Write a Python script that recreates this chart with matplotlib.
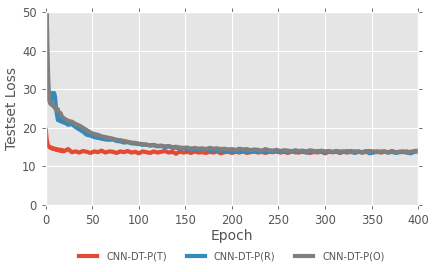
import matplotlib
matplotlib.use("Agg")
import matplotlib.pyplot as plt
import numpy as np

plt.style.use("ggplot")

# epochs: every epoch for the first 20, then every 4th
epochs = list(range(0, 20)) + list(range(20, 401, 4))

loss_t = [19.5, 17.0, 15.8, 15.2, 15.0, 14.8, 14.9, 14.6, 14.7, 14.5,
          14.6, 14.3, 14.4, 14.2, 14.4, 14.1, 14.3, 14.0, 14.2, 13.9,
          14.0, 14.5, 13.7, 13.9, 13.6, 14.0, 13.8, 13.5, 13.9, 13.7,
          14.1, 13.6, 13.9, 13.8, 13.5, 13.9, 13.7, 14.0, 13.6, 13.8,
          13.4, 13.9, 13.7, 13.5, 13.9, 13.6, 13.8, 14.0, 13.6, 13.8,
          13.3, 13.9, 13.6, 13.8, 13.5, 13.9, 13.6, 13.7, 13.5, 13.8,
          13.6, 13.9, 13.4, 13.7, 13.8, 13.5, 13.8, 13.6, 13.9, 13.5,
          13.7, 13.9, 13.6, 13.8, 13.5, 13.8, 13.7, 13.9, 13.6, 13.8,
          13.5, 13.9, 13.7, 13.6, 13.9, 13.7, 13.5, 13.8, 13.6, 13.9,
          13.4, 13.8, 13.7, 13.9, 13.5, 13.8, 13.6, 14.0, 13.7, 13.9,
          13.6, 13.8, 14.0, 13.7, 13.9, 13.6, 13.8, 13.7, 14.0, 13.6,
          13.8, 13.7, 13.9, 13.6, 14.0, 14.1]

loss_r = [60.0, 42.0, 33.0, 29.0, 27.0, 26.5, 27.5, 29.0, 28.6, 29.0,
          28.0, 25.0, 23.5, 22.0, 22.5, 21.8, 22.3, 21.6, 22.0, 21.4,
          21.5, 20.8, 21.0, 20.2, 19.6, 19.0, 18.2, 18.0, 17.6, 17.4,
          17.2, 17.0, 16.9, 17.0, 16.6, 16.5, 16.2, 16.3, 16.0, 15.9,
          15.8, 15.6, 15.7, 15.4, 15.5, 15.2, 15.3, 15.0, 15.2, 14.8,
          14.9, 14.6, 14.8, 14.5, 14.6, 14.3, 14.5, 14.2, 14.4, 14.1,
          14.3, 14.0, 14.2, 14.0, 14.1, 13.9, 14.1, 13.8, 14.0, 13.9,
          14.1, 13.8, 14.0, 13.9, 13.7, 14.0, 13.8, 14.0, 13.7, 13.9,
          13.8, 14.0, 13.7, 13.9, 13.8, 13.6, 13.9, 13.7, 14.0, 13.8,
          13.6, 13.9, 13.7, 13.8, 13.6, 13.9, 13.7, 13.8, 13.5, 13.8,
          13.7, 13.9, 13.4, 13.6, 13.8, 13.7, 13.9, 13.6, 13.8, 13.5,
          13.7, 13.8, 13.6, 13.4, 13.8, 13.9]

loss_o = [60.0, 50.5, 38.0, 30.0, 27.0, 26.2, 26.5, 25.8, 26.2, 25.4,
          25.0, 25.3, 24.6, 24.8, 24.0, 23.6, 23.8, 23.0, 22.8, 22.5,
          22.4, 21.8, 21.6, 21.0, 20.6, 20.0, 19.4, 18.8, 18.4, 18.2,
          17.8, 17.6, 17.4, 17.2, 16.9, 16.8, 16.6, 16.4, 16.2, 16.1,
          15.9, 15.8, 15.6, 15.5, 15.6, 15.3, 15.4, 15.2, 15.3, 15.0,
          15.1, 14.9, 14.8, 14.9, 14.6, 14.8, 14.6, 14.7, 14.5, 14.8,
          14.6, 14.7, 14.5, 14.6, 14.4, 14.5, 14.3, 14.6, 14.4, 14.5,
          14.2, 14.4, 14.3, 14.1, 14.5, 14.2, 14.1, 14.3, 14.0, 14.2,
          14.1, 13.9, 14.2, 14.0, 14.1, 13.9, 14.2, 14.0, 13.8, 14.1,
          13.9, 14.0, 13.8, 14.0, 13.9, 13.8, 14.0, 13.7, 13.9, 13.8,
          13.6, 14.0, 13.8, 13.9, 13.7, 13.9, 13.8, 13.6, 13.9, 13.7,
          13.8, 13.9, 13.6, 13.8, 13.9, 14.0]

labels = ["CNN-DT-P(T)", "CNN-DT-P(R)", "CNN-DT-P(O)"]
colors = ["#E24A33", "#348ABD", "#7f7f7f"]

fig = plt.figure(figsize=(4.36, 2.72), dpi=100)
fig.patch.set_facecolor("white")
ax = fig.add_axes([0.105, 0.246, 0.854, 0.71])

for y, lab, c in zip([loss_t, loss_r, loss_o], labels, colors):
    ax.plot(epochs, y, color=c, lw=3, label=lab)

ax.set_xlim(0, 400)
ax.set_ylim(0, 50)
ax.set_xticks(np.arange(0, 401, 50))
ax.set_yticks(np.arange(0, 51, 10))
ax.tick_params(labelsize=8.3, colors="#555555", top=True, right=True,
               direction="out", length=3, width=0.6)
for lbl in ax.get_xticklabels() + ax.get_yticklabels():
    lbl.set_color("#555555")
ax.set_xlabel("Epoch", fontsize=10, color="#555555", labelpad=1)
ax.set_ylabel("Testset Loss", fontsize=10, color="#555555", labelpad=2)
ax.grid(True, color="white", lw=0.8)

# legend sits centred under the axes, not the figure
ax.legend(loc="center", bbox_to_anchor=(0.5, -0.265), ncol=3, frameon=False,
          fontsize=7, handlelength=1.85, handletextpad=0.95,
          columnspacing=2.0, labelcolor="#555555")

fig.savefig("out.png", dpi=100)
